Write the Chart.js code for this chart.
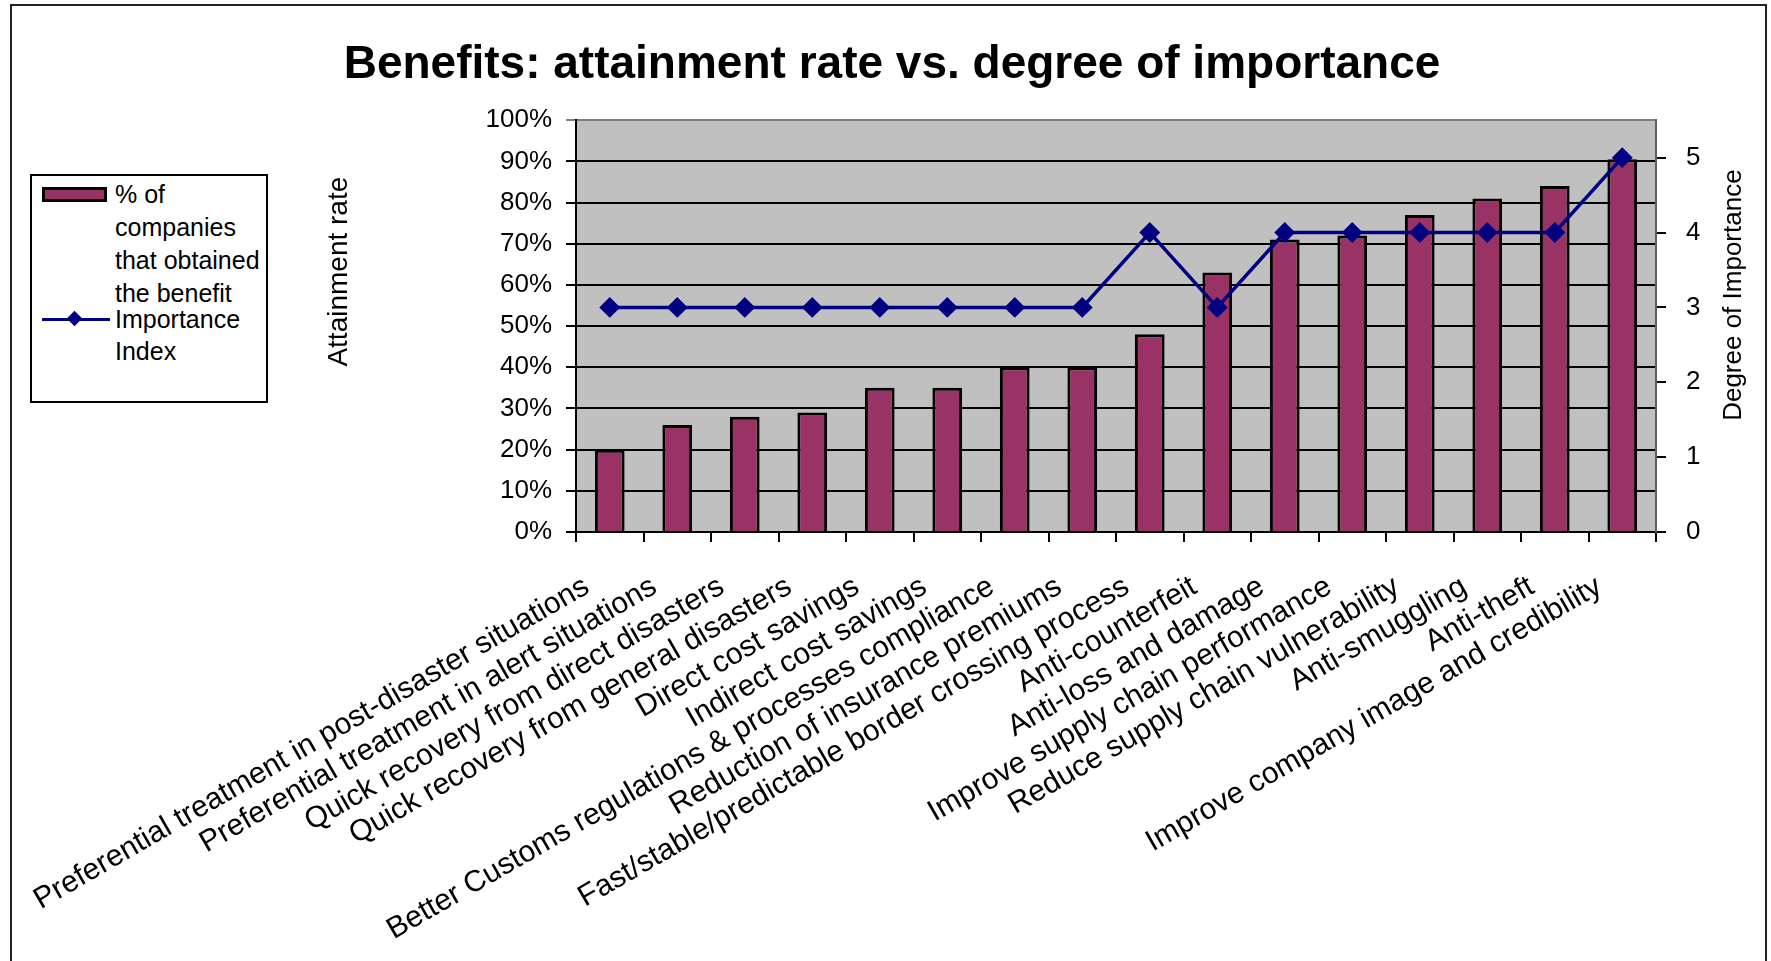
<!DOCTYPE html>
<html>
<head>
<meta charset="utf-8">
<script src="https://cdn.jsdelivr.net/npm/chart.js@4.4.1/dist/chart.umd.min.js"></script>
<style>
	html, body { margin: 0; padding: 0; background: #fff; overflow: hidden; }
	#wrap { position: relative; width: 1771px; height: 961px; }
	#frame { position: absolute; left: 10px; top: 4px; width: 1757px; height: 1100px; border: 2px solid #222; box-sizing: border-box; }
	#chart { position: absolute; left: 0; top: 0; }
	#legend { position: absolute; left: 30px; top: 174px; width: 238px; height: 229px; border: 2px solid #000; box-sizing: border-box;
		font-family: "Liberation Sans", Arial, sans-serif; font-size: 25px; color: #000; background: #fff; }
	#legend .txt { position: absolute; left: 83px; line-height: 33px; white-space: nowrap; }
	#legend .rect { position: absolute; left: 10px; top: 11px; width: 65px; height: 15px; background: #993366; border: 3px solid #000; box-sizing: border-box; }
	#legend .line { position: absolute; left: 10px; top: 142px; width: 68px; height: 3px; background: #000080; }
	#legend .dot { position: absolute; left: 37px; top: 137px; width: 11px; height: 11px; background: #000080; transform: rotate(45deg); }
</style>
</head>
<body>
<div id="wrap">
	<div id="frame"></div>
	<canvas id="chart" width="1771" height="961"></canvas>
	<div id="legend"></div>
</div>
<script>
const categories = [
	'Preferential treatment in post-disaster situations',
	'Preferential treatment in alert situations',
	'Quick recovery from direct disasters',
	'Quick recovery from general disasters',
	'Direct cost savings',
	'Indirect cost savings',
	'Better Customs regulations & processes compliance',
	'Reduction of insurance premiums',
	'Fast/stable/predictable border crossing process',
	'Anti-counterfeit',
	'Anti-loss and damage',
	'Improve supply chain performance',
	'Reduce supply chain vulnerability',
	'Anti-smuggling',
	'Anti-theft',
	'Improve company image and credibility'
];
const attainmentRate = [20, 26, 28, 29, 35, 35, 40, 40, 48, 63, 71, 72, 77, 81, 84, 90.5];
const importanceIndex = [3, 3, 3, 3, 3, 3, 3, 3, 4, 3, 4, 4, 4, 4, 4, 5];
const importanceTicks = [0, 1, 2, 3, 4, 5];
const barLegendLines = ['% of', 'companies', 'that obtained', 'the benefit'];
const lineLegendLines = ['Importance', 'Index'];
const leftTitle = 'Attainment rate';
const rightTitle = 'Degree of Importance';

const FONT = '"Liberation Sans", Arial, sans-serif';

// grey plot area like the old Excel chart
const plotBg = {
	id: 'plotBg',
	beforeDraw(chart) {
		const {ctx, chartArea: a} = chart;
		ctx.save();
		ctx.fillStyle = '#c0c0c0';
		ctx.fillRect(a.left, a.top, a.right - a.left, a.bottom - a.top);
		ctx.restore();
	}
};

// right axis title reads bottom-to-top in the original, chart.js turns it the other way
const y2Title = {
	id: 'y2Title',
	afterDraw(chart) {
		const s = chart.scales.y2;
		const ctx = chart.ctx;
		ctx.save();
		ctx.translate(s.right - 37, (s.top + s.bottom) / 2 - 31);
		ctx.rotate(-Math.PI / 2);
		ctx.font = '26px ' + FONT;
		ctx.fillStyle = '#000';
		ctx.textAlign = 'center';
		ctx.textBaseline = 'middle';
		ctx.fillText(rightTitle, 0, 0);
		ctx.restore();
	}
};

const chart = new Chart(document.getElementById('chart').getContext('2d'), {
	type: 'bar',
	data: {
		labels: categories,
		datasets: [
			{
				type: 'line',
				label: lineLegendLines.join(' '),
				data: importanceIndex,
				yAxisID: 'y2',
				order: 0,
				borderColor: '#000080',
				backgroundColor: '#000080',
				borderWidth: 3.5,
				tension: 0,
				pointStyle: 'rectRot',
				pointRadius: 8,
				pointBackgroundColor: '#000080',
				pointBorderColor: '#000080'
			},
			{
				label: barLegendLines.join(' '),
				data: attainmentRate,
				yAxisID: 'y',
				order: 1,
				backgroundColor: '#993366',
				borderColor: '#000',
				borderWidth: 3,
				barPercentage: 0.44,
				categoryPercentage: 1
			}
		]
	},
	options: {
		responsive: false,
		animation: false,
		layout: { padding: { left: 13, right: 0, top: 0, bottom: 0 } },
		plugins: {
			legend: { display: false },
			tooltip: { enabled: false },
			title: {
				display: true,
				text: 'Benefits: attainment rate vs. degree of importance',
				color: '#000',
				font: { family: FONT, size: 46, weight: 'bold' },
				padding: { top: 38, bottom: 27 }
			}
		},
		scales: {
			x: {
				afterFit: s => { s.height = 429; },
				grid: { offset: true, drawOnChartArea: false, drawTicks: true, tickLength: 10, color: '#000', lineWidth: 2 },
				border: { color: '#000', width: 2 },
				ticks: {
					autoSkip: false,
					minRotation: 30,
					maxRotation: 30,
					padding: 27,
					labelOffset: -23,
					color: '#000',
					font: { family: FONT, size: 30 }
				}
			},
			y: {
				position: 'left',
				min: 0,
				max: 100,
				afterFit: s => { s.width = 563; },
				grid: {
					color: ctx => ctx.tick && ctx.tick.value === 100 ? '#808080' : '#000',
					lineWidth: 2,
					tickLength: 10
				},
				border: { color: '#000', width: 2 },
				ticks: {
					stepSize: 10,
					padding: 14,
					color: '#000',
					font: { family: FONT, size: 26 },
					callback: v => v + '%'
				},
				title: {
					display: true,
					text: ' '.repeat(14) + leftTitle,
					color: '#000',
					font: { family: FONT, size: 28 },
					padding: { top: 309, bottom: 0 }
				}
			},
			y2: {
				position: 'right',
				min: 0,
				max: 5.5,
				afterFit: s => { s.width = 115; },
				afterBuildTicks: s => { s.ticks = importanceTicks.map(v => ({ value: v })); },
				grid: { drawOnChartArea: false, tickLength: 10, color: '#000', lineWidth: 2 },
				border: { color: '#606060', width: 2 },
				ticks: {
					padding: 20,
					color: '#000',
					font: { family: FONT, size: 26 }
				}
			}
		}
	},
	plugins: [plotBg, y2Title]
});

// legend box drawn as html so the labels can wrap like the original
function buildLegend() {
	const box = document.getElementById('legend');
	const barDs = chart.data.datasets[1];
	const lineDs = chart.data.datasets[0];
	const rect = document.createElement('div'); {
		rect.className = 'rect';
		rect.style.background = barDs.backgroundColor;
		box.appendChild(rect);
	}
	const t1 = document.createElement('div'); {
		t1.className = 'txt';
		t1.style.top = '2px';
		t1.innerHTML = barLegendLines.join('<br>');
		box.appendChild(t1);
	}
	const line = document.createElement('div'); {
		line.className = 'line';
		line.style.background = lineDs.borderColor;
		box.appendChild(line);
	}
	const dot = document.createElement('div'); {
		dot.className = 'dot';
		box.appendChild(dot);
	}
	const t2 = document.createElement('div'); {
		t2.className = 'txt';
		t2.style.top = '127px';
		t2.style.lineHeight = '32px';
		t2.innerHTML = lineLegendLines.join('<br>');
		box.appendChild(t2);
	}
}
buildLegend();
</script>
</body>
</html>
